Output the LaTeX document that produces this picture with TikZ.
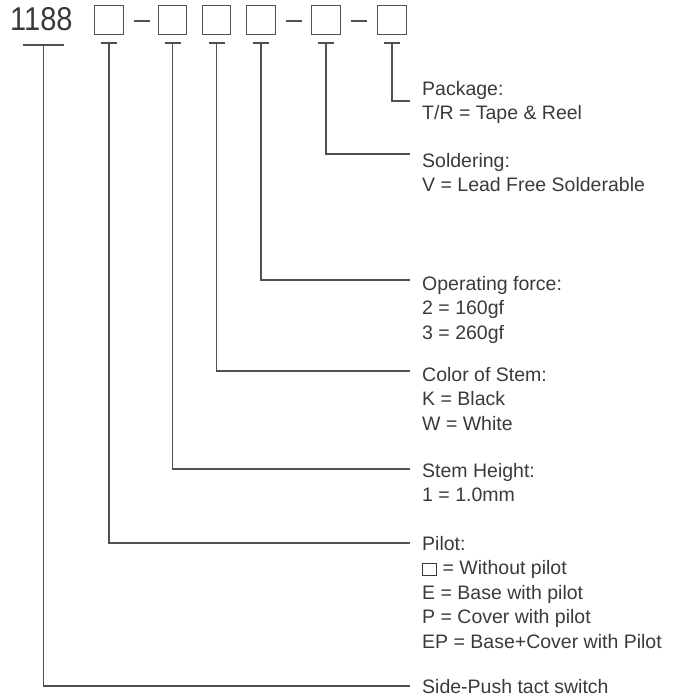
\documentclass[tikz,border=0pt]{standalone}
\usepackage{fontspec}
\setmainfont{Liberation Sans}
\definecolor{inkgray}{HTML}{3A3A3A}
\definecolor{rulegray}{HTML}{505050}
\newcommand{\lblfont}{\fontsize{19.5}{24.5}\selectfont}
\newcommand{\stack}[1]{\begin{tabular}[t]{@{}l@{}}#1\end{tabular}}
\newcommand{\emptybox}{{\setlength{\fboxsep}{0pt}\setlength{\fboxrule}{1pt}\fbox{\rule{0pt}{11pt}\hspace{13pt}}}}
\tikzset{
  digit/.style={draw=rulegray, line width=1.2pt, minimum size=28.5pt, inner sep=0pt},
  lbl/.style={anchor=base west, inner sep=0pt, font=\lblfont, text=inkgray},
  lead/.style={draw=rulegray, line width=1.2pt},
}
\begin{document}
\begin{tikzpicture}[x=1pt, y=-1pt]
  \useasboundingbox (0,0) rectangle (682,699);

  % Part number 1188 [ ] - [ ] [ ] [ ] - [ ] - [ ]
  \node[anchor=base west, inner sep=0pt, text=inkgray,
        font=\fontsize{33}{33}\selectfont] (pn) at (10,30) {\scalebox{0.88}[1]{1188}};
  \node[digit] (b1) at (109,20) {};
  \node[digit] (b2) at (172.5,20) {};
  \node[digit] (b3) at (216.5,20) {};
  \node[digit] (b4) at (261,20) {};
  \node[digit] (b5) at (326,20) {};
  \node[digit] (b6) at (392,20) {};
  \draw[lead] (134,21) -- (150,21);
  \draw[lead] (286,21) -- (302,21);
  \draw[lead] (351,21) -- (367,21);

  % tops of the leaders
  \coordinate (t0) at (43.5,45);
  \coordinate (t1) at (b1.south |- 0,43);
  \coordinate (t2) at (b2.south |- 0,43);
  \coordinate (t3) at (b3.south |- 0,43);
  \coordinate (t4) at (b4.south |- 0,43);
  \coordinate (t5) at (b5.south |- 0,43);
  \coordinate (t6) at (b6.south |- 0,43);
  \draw[lead] (23,45) -- (64,45);
  \draw[lead] ([xshift=-8pt]t1) -- ([xshift=8pt]t1);
  \draw[lead] ([xshift=-8pt]t2) -- ([xshift=8pt]t2);
  \draw[lead] ([xshift=-8pt]t3) -- ([xshift=8pt]t3);
  \draw[lead] ([xshift=-8pt]t4) -- ([xshift=8pt]t4);
  \draw[lead] ([xshift=-8pt]t5) -- ([xshift=8pt]t5);
  \draw[lead] ([xshift=-8pt]t6) -- ([xshift=8pt]t6);

  % labels
  \node[lbl] (pkg) at (422,95) {\stack{Package:\\T/R = Tape \& Reel}};
  \node[lbl] (sol) at (422,167) {\stack{Soldering:\\V = Lead Free Solderable}};
  \node[lbl] (frc) at (422,290) {\stack{Operating force:\\2 = 160gf\\3 = 260gf}};
  \node[lbl] (col) at (422,381) {\stack{Color of Stem:\\K = Black\\W = White}};
  \node[lbl] (hgt) at (422,477) {\stack{Stem Height:\\1 = 1.0mm}};
  \node[lbl] (plt) at (422,550) {\stack{Pilot:\\\emptybox{} = Without pilot\\E = Base with pilot\\P = Cover with pilot\\EP = Base+Cover with Pilot}};
  \node[lbl] (sw) at (422,693) {Side-Push tact switch};

  % leader ends
  \coordinate (e6) at (410,101);
  \coordinate (e5) at (410,154);
  \coordinate (e4) at (410,280);
  \coordinate (e3) at (410,371);
  \coordinate (e2) at (410,469);
  \coordinate (e1) at (410,543);
  \coordinate (e0) at (410,686);

  \draw[lead] (t6) |- (e6);
  \draw[lead] (t5) |- (e5);
  \draw[lead] (t4) |- (e4);
  \draw[lead] (t3) |- (e3);
  \draw[lead] (t2) |- (e2);
  \draw[lead] (t1) |- (e1);
  \draw[lead] (t0) |- (e0);
\end{tikzpicture}
\end{document}
